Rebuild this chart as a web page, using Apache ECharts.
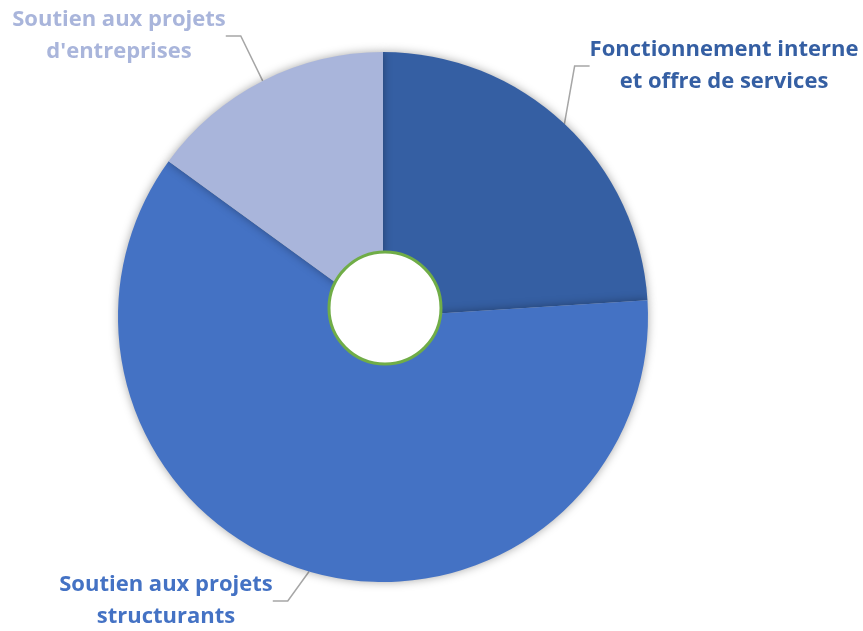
<!DOCTYPE html>
<html>
<head>
<meta charset="utf-8">
<script src="https://cdn.jsdelivr.net/npm/echarts@6/dist/echarts.min.js"></script>
<style>html,body{margin:0;padding:0;background:#fff}#c{width:863px;height:631px}</style>
</head>
<body>
<div id="c"></div>
<script>
const categories = ["Fonctionnement interne\net offre de services", "Soutien aux projets\nstructurants", "Soutien aux projets\nd'entreprises"];
const values = [24, 61, 15];
const colors = ["#355FA3", "#4472C4", "#A9B5DB"];
const labelPos = [[724, 66], [166, 601], [119, 36]];

const chart = echarts.init(document.getElementById('c'), null, {renderer: 'canvas'});
chart.setOption({
  animation: false,
  backgroundColor: '#fff',
  series: [{
    type: 'pie',
    center: [383, 317],
    radius: [0, 265],
    startAngle: 90,
    clockwise: true,
    data: categories.map((n, i) => ({
      name: n, value: values[i],
      itemStyle: {color: colors[i]},
      label: {color: colors[i]}
    })),
    itemStyle: {shadowBlur: 10, shadowColor: 'rgba(0,0,0,0.35)', borderWidth: 0},
    label: {
      show: true,
      position: 'outside',
      formatter: '{b}',
      fontFamily: 'Open Sans',
      fontWeight: 'bold',
      fontSize: 22,
      lineHeight: 32,
      align: 'center',
      overflow: 'none'
    },
    labelLine: {show: true, lineStyle: {color: '#A6A6A6', width: 1.5}, length: 15, length2: 15},
    labelLayout: function (p) {
      const pos = labelPos[p.dataIndex];
      return {x: pos[0], y: pos[1], align: 'center', verticalAlign: 'middle'};
    }
  }],
  graphic: [{
    type: 'circle',
    shape: {cx: 385, cy: 308, r: 56},
    style: {fill: '#fff', stroke: '#70AD47', lineWidth: 3},
    z: 100
  }]
});
</script>
</body>
</html>
